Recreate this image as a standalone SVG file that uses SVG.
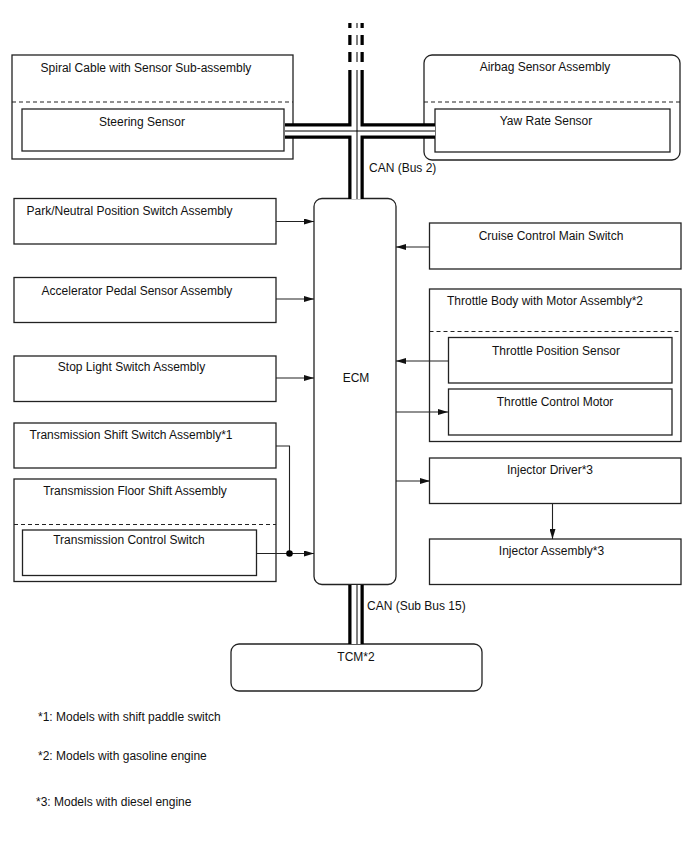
<svg xmlns="http://www.w3.org/2000/svg" width="688" height="852" viewBox="0 0 688 852">
<defs>
<marker id="arr" viewBox="0 0 10 6" refX="10" refY="3" markerWidth="10" markerHeight="6" markerUnits="userSpaceOnUse" orient="auto">
<path d="M0,0 L10,3 L0,6 Z" fill="#111"/>
</marker>
<style>
.box{fill:#fff;stroke:#222;stroke-width:1.3}
.dash{fill:none;stroke:#222;stroke-width:1.2;stroke-dasharray:4,3}
.t{font-family:"Liberation Sans",Arial,sans-serif;font-size:12px;fill:#111;text-anchor:middle}
.ts{font-family:"Liberation Sans",Arial,sans-serif;font-size:12px;fill:#111}
.w{fill:none;stroke:#222;stroke-width:1.1}
.bo{fill:none;stroke:#000;stroke-width:15.5}
.bw{fill:none;stroke:#fff;stroke-width:9}
.bc{fill:none;stroke:#000;stroke-width:1}
</style>
</defs>
<rect width="688" height="852" fill="#fff"/>

<g id="spiral-cable">
<rect class="box" x="12" y="55" width="281" height="104"/>
<line class="dash" x1="12" y1="102" x2="293" y2="102"/>
<text class="t" x="146" y="71.5">Spiral Cable with Sensor Sub-assembly</text>
</g>
<g id="steering-sensor">
<rect class="box" x="22" y="109" width="262" height="42"/>
<text class="t" x="142" y="126">Steering Sensor</text>
</g>

<g id="airbag-sensor">
<rect class="box" x="424" y="55" width="256" height="105" rx="8"/>
<line class="dash" x1="424" y1="102" x2="680" y2="102"/>
<text class="t" x="545" y="70.5">Airbag Sensor Assembly</text>
</g>
<g id="yaw-rate-sensor">
<rect class="box" x="435" y="109" width="235" height="43"/>
<text class="t" x="546" y="125">Yaw Rate Sensor</text>
</g>

<g id="park-neutral">
<rect class="box" x="14" y="198.5" width="262" height="45.5"/>
<text class="t" x="129.5" y="215">Park/Neutral Position Switch Assembly</text>
</g>
<g id="accelerator-pedal">
<rect class="box" x="14" y="277.5" width="262" height="45"/>
<text class="t" x="137" y="295">Accelerator Pedal Sensor Assembly</text>
</g>
<g id="stop-light">
<rect class="box" x="14" y="356" width="262" height="45.5"/>
<text class="t" x="131.5" y="371">Stop Light Switch Assembly</text>
</g>
<g id="trans-shift-switch">
<rect class="box" x="14" y="423" width="262" height="45"/>
<text class="t" x="131" y="439">Transmission Shift Switch Assembly*1</text>
</g>
<g id="trans-floor-shift">
<rect class="box" x="14" y="479" width="262" height="102.5"/>
<line class="dash" x1="14" y1="524.5" x2="276" y2="524.5"/>
<text class="t" x="135" y="495">Transmission Floor Shift Assembly</text>
</g>
<g id="trans-control-switch">
<rect class="box" x="22.5" y="530" width="234" height="45.5"/>
<text class="t" x="129" y="543.5">Transmission Control Switch</text>
</g>

<g id="ecm">
<rect class="box" x="314" y="198.5" width="82" height="386" rx="8"/>
<text class="t" x="356" y="382">ECM</text>
</g>

<g id="cruise-control">
<rect class="box" x="429.5" y="223" width="251.5" height="46"/>
<text class="t" x="551" y="240">Cruise Control Main Switch</text>
</g>
<g id="throttle-body">
<rect class="box" x="429.5" y="289" width="251.5" height="152.5"/>
<line class="dash" x1="429.5" y1="331.5" x2="681" y2="331.5"/>
<text class="t" x="545" y="305">Throttle Body with Motor Assembly*2</text>
</g>
<g id="throttle-position-sensor">
<rect class="box" x="448.5" y="337.5" width="223.5" height="45.5"/>
<text class="t" x="556" y="355">Throttle Position Sensor</text>
</g>
<g id="throttle-control-motor">
<rect class="box" x="448.5" y="389" width="223.5" height="46"/>
<text class="t" x="555" y="406">Throttle Control Motor</text>
</g>
<g id="injector-driver">
<rect class="box" x="429.5" y="458" width="251.5" height="45.5"/>
<text class="t" x="550" y="474">Injector Driver*3</text>
</g>
<g id="injector-assembly">
<rect class="box" x="429.5" y="539" width="251.5" height="45.5"/>
<text class="t" x="551.5" y="555">Injector Assembly*3</text>
</g>

<g id="tcm">
<rect class="box" x="231" y="644" width="251" height="47" rx="8"/>
<text class="t" x="356" y="661">TCM*2</text>
</g>

<g id="connectors">
<!-- CAN bus 2 -->
<path class="bo" d="M356 70 V199 M285 131 H435 M356 23 V28 M356 35 V45 M356 52 V62"/>
<path class="bw" d="M356 70 V199 M285 131 H435 M356 23 V28 M356 35 V45 M356 52 V62"/>
<path class="bc" d="M357 70 V199 M285 131 H435 M357 23 V28 M357 35 V45 M357 52 V62"/>
<!-- CAN sub bus 15 -->
<path class="bo" d="M356 585 V644"/>
<path class="bw" d="M356 585 V644"/>
<path class="bc" d="M357 585 V644"/>
<!-- signal lines -->
<line class="w" x1="276" y1="221.5" x2="314" y2="221.5" marker-end="url(#arr)"/>
<line class="w" x1="276" y1="299" x2="314" y2="299" marker-end="url(#arr)"/>
<line class="w" x1="276" y1="378" x2="314" y2="378" marker-end="url(#arr)"/>
<polyline class="w" points="276,446 289.5,446 289.5,553.5"/>
<line class="w" x1="257" y1="553.5" x2="314" y2="553.5" marker-end="url(#arr)"/>
<circle cx="289.5" cy="553.5" r="3.3" fill="#000"/>
<line class="w" x1="430" y1="247" x2="396" y2="247" marker-end="url(#arr)"/>
<line class="w" x1="448" y1="361" x2="396" y2="361" marker-end="url(#arr)"/>
<line class="w" x1="396" y1="412" x2="448" y2="412" marker-end="url(#arr)"/>
<line class="w" x1="396" y1="481" x2="430" y2="481" marker-end="url(#arr)"/>
<line class="w" x1="552.5" y1="503" x2="552.5" y2="539" marker-end="url(#arr)"/>
<text class="ts" x="369" y="172">CAN (Bus 2)</text>
<text class="ts" x="367" y="610">CAN (Sub Bus 15)</text>
</g>

<g id="notes">
<text class="ts" x="38" y="721">*1: Models with shift paddle switch</text>
<text class="ts" x="38" y="760">*2: Models with gasoline engine</text>
<text class="ts" x="36" y="806">*3: Models with diesel engine</text>
</g>
</svg>
